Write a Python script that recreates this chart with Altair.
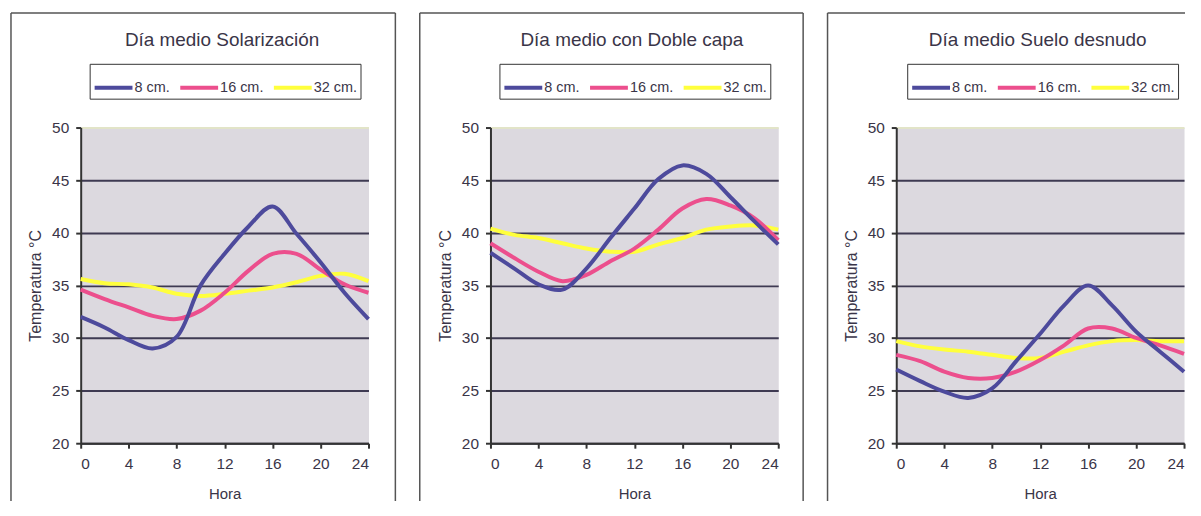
import altair as alt
import pandas as pd

# ---- data ----
hours = [0, 2, 4, 6, 8, 10, 12, 14, 16, 18, 20, 22, 24]
series = ["8 cm.", "16 cm.", "32 cm."]
colors = ["#4d4a9c", "#ec4f8d", "#ffff3c"]
titles = ["Día medio Solarización", "Día medio con Doble capa", "Día medio Suelo desnudo"]

sol_8 = [32.0, 31.0, 29.8, 29.0, 30.1, 35.0, 38.0, 40.6, 42.5, 39.9, 37.2, 34.3, 31.8]
sol_16 = [34.6, 33.7, 32.9, 32.1, 31.8, 32.6, 34.3, 36.4, 38.0, 38.0, 36.5, 35.1, 34.3]
sol_32 = [35.6, 35.2, 35.1, 34.8, 34.2, 34.0, 34.2, 34.5, 34.8, 35.3, 35.9, 36.1, 35.4]

dob_8 = [38.1, 36.6, 35.1, 34.6, 36.6, 39.5, 42.3, 45.1, 46.4, 45.6, 43.4, 41.1, 38.9]
dob_16 = [39.0, 37.6, 36.3, 35.4, 36.0, 37.3, 38.5, 40.3, 42.3, 43.2, 42.6, 41.4, 39.3]
dob_32 = [40.4, 39.8, 39.5, 39.0, 38.5, 38.2, 38.2, 38.9, 39.5, 40.3, 40.6, 40.7, 40.3]

des_8 = [27.0, 25.9, 24.9, 24.3, 25.2, 27.8, 30.4, 33.1, 35.0, 33.1, 30.6, 28.7, 26.8]
des_16 = [28.4, 27.8, 26.8, 26.2, 26.2, 26.8, 27.9, 29.3, 30.9, 30.9, 30.0, 29.3, 28.5]
des_32 = [29.7, 29.2, 28.9, 28.7, 28.4, 28.1, 28.1, 28.7, 29.3, 29.7, 29.8, 29.7, 29.7]

x_ticks = [0, 4, 8, 12, 16, 20, 24]
y_ticks = [20, 25, 30, 35, 40, 45, 50]

W, H = 289, 317
FONT = "Liberation Sans"
TXT = "#3a3548"
BORDER = "#555555"


def panel(title, s8, s16, s32, left_edge, right_edge, draw_right, legend_x):
    rows = []
    for name, vals in zip(series, [s8, s16, s32]):
        for h, v in zip(hours, vals):
            rows.append({"Hora": h, "Temp": v, "Prof": name})
    df = pd.DataFrame(rows)

    x = alt.X("Hora:Q", scale=alt.Scale(domain=[0, 24], nice=False),
              axis=alt.Axis(values=x_ticks, title="Hora", grid=False,
                            labelFontSize=15.5, labelColor=TXT, labelPadding=8,
                            tickSize=5, tickColor="#333", tickWidth=2,
                            domainColor="#333", domainWidth=2,
                            titleFontSize=15, titleFontWeight="normal",
                            titleColor=TXT, titlePadding=15))
    y = alt.Y("Temp:Q", scale=alt.Scale(domain=[20, 50], nice=False, zero=False),
              axis=alt.Axis(values=y_ticks, title="Temperatura °C", grid=True,
                            gridColor={"condition": {"test": "datum.value >= 50", "value": "#e2e4c8"},
                                       "value": "#3e3a52"},
                            gridWidth=2,
                            labelFontSize=15.5, labelColor=TXT, labelPadding=7,
                            tickSize=5, tickColor="#333", tickWidth=2,
                            domainColor="#333", domainWidth=2,
                            titleFontSize=16, titleFontWeight="normal",
                            titleColor=TXT, titlePadding=8))
    color = alt.Color("Prof:N", scale=alt.Scale(domain=series, range=colors),
                      legend=alt.Legend(title=None, orient="none", legendX=legend_x, legendY=-64,
                                        direction="horizontal", columns=3,
                                        symbolType="stroke", symbolSize=1444,
                                        symbolStrokeWidth=4, labelFontSize=14.5,
                                        labelColor=TXT, labelOffset=0, columnPadding=2,
                                        padding=3, strokeColor="#333"))

    layers = []
    for name in ["32 cm.", "16 cm.", "8 cm."]:
        layers.append(
            alt.Chart(df).transform_filter(alt.datum.Prof == name)
            .mark_line(interpolate="catmull-rom", strokeWidth=4)
            .encode(x=x, y=y, color=color)
        )

    one = pd.DataFrame({"t": [title]})
    ttl = alt.Chart(one).mark_text(fontSize=19, font=FONT, color=TXT, align="center",
                                   baseline="alphabetic").encode(
        text="t:N", x=alt.value(142), y=alt.value(-82))

    top = alt.Chart(one).mark_rule(color=BORDER, strokeWidth=1.5).encode(
        x=alt.value(left_edge), x2=alt.value(right_edge), y=alt.value(-115))
    left = alt.Chart(one).mark_rule(color=BORDER, strokeWidth=1.5).encode(
        x=alt.value(left_edge), y=alt.value(-115), y2=alt.value(375))
    parts = [top, left]
    if draw_right:
        parts.append(alt.Chart(one).mark_rule(color=BORDER, strokeWidth=1.5).encode(
            x=alt.value(right_edge), y=alt.value(-115), y2=alt.value(375)))

    return alt.layer(*layers, ttl, *parts).properties(width=W, height=H)


p1 = panel(titles[0], sol_8, sol_16, sol_32, -70, 316, True, 9)
p2 = panel(titles[1], dob_8, dob_16, dob_32, -71, 314, True, 9)
p3 = panel(titles[2], des_8, des_16, des_32, -69, 290, False, 11)

chart = (
    alt.hconcat(p1, p2, p3, spacing=20.5)
    .resolve_legend(color="independent")
    .properties(padding={"left": 1, "top": 2, "right": 0, "bottom": 0})
    .configure(font=FONT)
    .configure_view(fill="#dcd9df", stroke="transparent")
)

chart.save("out.html", embed_options={"renderer": "svg", "actions": False})
